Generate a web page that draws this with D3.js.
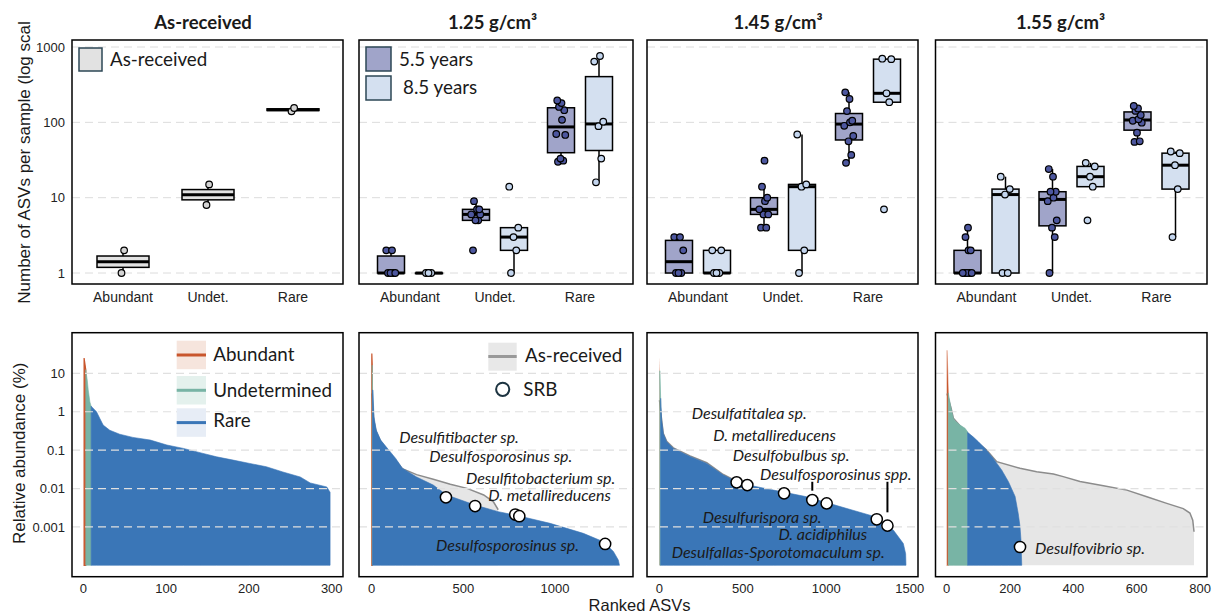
<!DOCTYPE html>
<html>
<head>
<meta charset="utf-8">
<script src="https://cdn.jsdelivr.net/npm/d3@7"></script>
<style>
  body { margin: 0; background: #fff; }
  svg { display: block; }
</style>
</head>
<body>
<svg id="chart" width="1213" height="615"></svg>
<script>
// ---------------- data ----------------
const panelTitles = ["As-received", "1.25 g/cm³", "1.45 g/cm³", "1.55 g/cm³"];
const categories = ["Abundant", "Undet.", "Rare"];
const ageLabels = ["5.5 years", "8.5 years"];

// Number of ASVs per sample, by abundance class (Abundant, Undet., Rare)
const countsAsReceived = [[1, 2], [8, 15], [140, 155]];
const counts125y55 = [[1, 1, 1, 1, 2, 2], [2, 5, 5, 6, 6, 7, 7, 9], [30, 31, 33, 68, 70, 108, 145, 160, 180, 195]];
const counts125y85 = [[1, 1, 1], [1, 2, 3, 4, 14], [16, 33, 89, 102, 640, 760]];
const counts145y55 = [[1, 1, 1, 2, 3, 3], [4, 4, 6, 6, 7, 9, 10, 14, 31], [29, 37, 56, 66, 90, 100, 105, 141, 204, 250]];
const counts145y85 = [[1, 1, 1, 2, 2], [1, 2, 14, 15, 69], [7, 185, 243, 690, 700]];
const counts155y55 = [[1, 1, 1, 1, 1, 2, 2, 3, 4], [1, 3, 4, 5, 9, 10, 12, 12, 19, 24], [55, 56, 73, 99, 105, 110, 125, 142, 153, 165]];
const counts155y85 = [[1, 1, 11, 13, 19], [5, 14, 19, 26, 29], [3, 13, 27, 39, 41]];

// Rank-abundance curves: [rank, relative abundance %]
const arAbundant = [[1, 25], [3, 12.5]];
const arUndet = [[3, 12.5], [4.8, 6.7], [6, 3.7], [8, 1.8], [9.5, 1.4]];
const arRare = [[9.5, 1.4], [16, 1.0], [20, 0.67], [24, 0.45], [32, 0.33], [44, 0.26], [60, 0.215], [81, 0.183],
  [101, 0.136], [121, 0.111], [141, 0.086], [161, 0.067], [181, 0.055], [201, 0.045], [221, 0.037], [241, 0.027],
  [262, 0.020], [274, 0.014], [294, 0.011], [298, 0.008]];

const d125Abundant = [[1, 33], [3, 16.4]];
const d125Undet = [[3, 16.4], [5, 3.7]];
const d125Rare = [[5, 3.7], [7, 3.67], [12.5, 0.74], [25, 0.333], [49, 0.183], [94, 0.10], [131, 0.061], [167, 0.034],
  [245, 0.020], [336, 0.0123], [409, 0.0068], [564, 0.0037], [690, 0.0025], [809, 0.0019], [973, 0.00124],
  [1154, 0.00068], [1264, 0.00041], [1318, 0.00023], [1345, 0.000137], [1351, 0.0001]];
const d125AsReceived = [[1, 3], [12, 0.6], [25, 0.3], [49, 0.17], [94, 0.09], [131, 0.055], [167, 0.033], [245, 0.023],
  [336, 0.0174], [429, 0.013], [520, 0.0101], [611, 0.0068], [664, 0.0045], [690, 0.0028]];
const d125SRB = [[405, 0.0059], [564, 0.0035], [783, 0.0021], [805, 0.0019], [1273, 0.00036]];
const d125Labels = [["Desulfitibacter sp.", 150, 0.215], ["Desulfosporosinus sp.", 314, 0.067],
  ["Desulfitobacterium sp.", 514, 0.0181], ["D. metallireducens", 636, 0.0066], ["Desulfosporosinus sp.", 351, 0.00034]];

const d145Abundant = [[1, 28], [3, 11.7]];
const d145Undet = [[3, 11.7], [8, 2.24]];
const d145Rare = [[8, 2.24], [14, 0.61], [24, 0.27], [44, 0.166], [84, 0.111], [184, 0.068], [284, 0.045],
  [383, 0.0224], [483, 0.0137], [683, 0.0091], [883, 0.0061], [1082, 0.0034], [1282, 0.0019], [1401, 0.00083],
  [1461, 0.00037], [1475, 0.0002], [1477, 0.0001]];
const d145AsReceived = [[1, 2], [14, 0.6], [24, 0.27], [44, 0.17], [84, 0.115], [184, 0.071], [284, 0.047],
  [383, 0.0232], [450, 0.0165], [520, 0.011], [640, 0.007], [700, 0.0045]];
const d145SRB = [[463, 0.0145], [527, 0.0123], [747, 0.0075], [916, 0.005], [1002, 0.0041], [1302, 0.00158], [1366, 0.00108]];
const d145Labels = [["Desulfatitalea sp.", 194, 0.91], ["D. metallireducens", 323, 0.247], ["Desulfobulbus sp.", 440, 0.0745],
  ["Desulfosporosinus spp.", 603, 0.0239], ["Desulfurispora sp.", 260, 0.00182], ["D. acidiphilus", 713, 0.00062],
  ["Desulfallas-Sporotomaculum sp.", 74, 0.000222]];
const d145Leaders = [[916, 0.015, 0.0088], [1366, 0.015, 0.0024]];

const d155Abundant = [[1, 40], [5, 3.1]];
const d155Undet = [[5, 3.1], [13.6, 1.23], [21, 0.67], [26, 0.58], [42, 0.45], [58, 0.37], [66, 0.30]];
const d155Rare = [[66, 0.29], [84, 0.22], [100, 0.166], [121, 0.111], [147, 0.061], [174, 0.030], [195, 0.015],
  [216, 0.0062], [226, 0.0022], [231.5, 0.00102], [234.6, 0.00045], [237, 0.0001]];
const d155AsReceived = [[1, 3], [13.6, 1.25], [21, 0.68], [42, 0.43], [66, 0.28], [100, 0.15], [126, 0.1], [158, 0.05],
  [231.5, 0.0336], [284, 0.0275], [337, 0.024], [368, 0.0204], [421, 0.0152], [495, 0.0118], [569, 0.0091],
  [632, 0.0061], [695, 0.0041], [747, 0.003], [768, 0.0023], [777, 0.0015], [781, 0.00075]];
const d155SRB = [[231.5, 0.0003]];
const d155Labels = [["Desulfovibrio sp.", 279, 0.000277]];

const topTicks = [1, 10, 100, 1000];
const bottomTicks = [10, 1, 0.1, 0.01, 0.001];
const rankTicks = [[0, 100, 200, 300], [0, 500, 1000], [0, 500, 1000, 1500], [0, 200, 400, 600, 800]];
const rankDomains = [[-13.6, 313.6], [-69, 1425], [-73.7, 1549], [-35.4, 822]];

// ---------------- layout & style ----------------
const svg = d3.select("#chart");
const fSans = "'Liberation Sans', Arial, sans-serif";
const fCal = "Lato, 'Open Sans', sans-serif";
const ink = "#1a1a1a";

const panelX = [[72, 343], [359, 633], [647, 918], [935.5, 1207]];
const topY = [40, 284];
const botY = [332.7, 576.7];

const colAR = "#e2e2e2", colARpt = "#d4d4d4";
const col55 = "#a0a4c9", col55pt = "#4d579f";
const col85 = "#d4e0f0", col85pt = "#c3d5ee";
const colAbund = "#c9562d", colUndet = "#78b4a5", colRare = "#3a76b7";
const colGreyFill = "#e6e6e6", colGreyLine = "#8c8c8c";
const legendEdge = "#2d4755";
const legendSize = 18.8;

const yTop = d3.scaleLog().domain([0.715, 1239]).range([topY[1], topY[0]]);
const yBot = d3.scaleLog().domain([Math.pow(10, -4.297), Math.pow(10, 2.06)]).range([botY[1], botY[0]]);
const baseline = 1e-4;

const jitterPattern = [-0.6, 0.45, -0.1, 0.85, -0.95, 0.2, 0.65, -0.4, 0.1, -0.75, 0.95];

function boxStats(vals) {
  const l = vals.map(Math.log10).sort(d3.ascending);
  const q1 = d3.quantile(l, 0.25), med = d3.quantile(l, 0.5), q3 = d3.quantile(l, 0.75);
  const iqr = q3 - q1;
  const lo = d3.min(l.filter(v => v >= q1 - 1.5 * iqr));
  const hi = d3.max(l.filter(v => v <= q3 + 1.5 * iqr));
  const p = v => Math.pow(10, v);
  return { q1: p(q1), med: p(med), q3: p(q3), lo: p(lo), hi: p(hi) };
}

// ---------------- titles ----------------
const titleX = [203, 492.5, 778, 1060.5];
panelTitles.forEach((t, i) => {
  svg.append("text").attr("x", titleX[i]).attr("y", 28.5).attr("text-anchor", "middle")
    .attr("font-family", fCal).attr("font-weight", 700).attr("font-size", 18.5).attr("fill", ink).text(t);
});

// ---------------- top row: box plots ----------------
const topSeries = [
  [{ vals: countsAsReceived, fill: colAR, pt: colARpt, off: 0, w: 52, jit: 2.5 }],
  [{ vals: counts125y55, fill: col55, pt: col55pt, off: -19, w: 27, jit: 5 },
   { vals: counts125y85, fill: col85, pt: col85pt, off: 19, w: 27, jit: 5 }],
  [{ vals: counts145y55, fill: col55, pt: col55pt, off: -19, w: 27, jit: 5 },
   { vals: counts145y85, fill: col85, pt: col85pt, off: 19, w: 27, jit: 5 }],
  [{ vals: counts155y55, fill: col55, pt: col55pt, off: -19, w: 27, jit: 5 },
   { vals: counts155y85, fill: col85, pt: col85pt, off: 19, w: 27, jit: 5 }]
];

panelX.forEach(([x0, x1], p) => {
  const g = svg.append("g");
  const xc = d3.scalePoint().domain(categories).range([x0 + 51, x0 + 221]);

  // grid
  g.selectAll("line.grid").data(topTicks).join("line")
    .attr("x1", x0).attr("x2", x1).attr("y1", d => yTop(d)).attr("y2", d => yTop(d))
    .attr("stroke", "#dcdcdc").attr("stroke-width", 1).attr("stroke-dasharray", "8,5");

  topSeries[p].forEach(s => {
    categories.forEach((c, ci) => {
      const vals = s.vals[ci];
      const st = boxStats(vals);
      const cx = xc(c) + s.off;
      const bg = g.append("g");
      bg.append("line").attr("x1", cx).attr("x2", cx).attr("y1", yTop(st.hi)).attr("y2", yTop(st.q3))
        .attr("stroke", "#000").attr("stroke-width", 1.5);
      bg.append("line").attr("x1", cx).attr("x2", cx).attr("y1", yTop(st.q1)).attr("y2", yTop(st.lo))
        .attr("stroke", "#000").attr("stroke-width", 1.5);
      bg.append("rect").attr("x", cx - s.w / 2).attr("width", s.w)
        .attr("y", yTop(st.q3)).attr("height", Math.max(0.5, yTop(st.q1) - yTop(st.q3)))
        .attr("fill", s.fill).attr("stroke", "#000").attr("stroke-width", 1.5);
      bg.append("line").attr("x1", cx - s.w / 2).attr("x2", cx + s.w / 2)
        .attr("y1", yTop(st.med)).attr("y2", yTop(st.med)).attr("stroke", "#000").attr("stroke-width", 3);
      bg.selectAll("circle").data(vals).join("circle")
        .attr("cx", (d, i) => cx + jitterPattern[i % jitterPattern.length] * s.jit)
        .attr("cy", d => yTop(d)).attr("r", 3.3)
        .attr("fill", s.pt).attr("stroke", "#000").attr("stroke-width", 1.2);
    });
  });

  // category labels
  g.selectAll("text.cat").data(categories).join("text")
    .attr("x", d => xc(d)).attr("y", 301.5).attr("text-anchor", "middle")
    .attr("font-family", fSans).attr("font-size", 14).attr("fill", "#222").text(d => d);

  // frame
  g.append("rect").attr("x", x0).attr("y", topY[0]).attr("width", x1 - x0).attr("height", topY[1] - topY[0])
    .attr("fill", "none").attr("stroke", "#000").attr("stroke-width", 1.5);
});

// top y axis labels
svg.selectAll("text.ytop").data(topTicks).join("text")
  .attr("x", 65).attr("y", d => yTop(d) + 4.6).attr("text-anchor", "end")
  .attr("font-family", fSans).attr("font-size", 13).attr("fill", "#222").text(d => d);
svg.append("text").attr("transform", "translate(30,162.5) rotate(-90)").attr("text-anchor", "middle")
  .attr("font-family", fSans).attr("font-size", 17).attr("fill", ink).text("Number of ASVs per sample (log scal");

// top legends
svg.append("rect").attr("x", 79).attr("y", 48).attr("width", 23).attr("height", 23)
  .attr("fill", colAR).attr("stroke", legendEdge).attr("stroke-width", 1.5);
svg.append("text").attr("x", 110).attr("y", 66).attr("font-family", fCal).attr("font-size", legendSize)
  .attr("fill", ink).text("As-received");
[[col55, 47, 399, 65.7], [col85, 76, 403, 94]].forEach(([c, y, tx, ty], i) => {
  svg.append("rect").attr("x", 366).attr("y", y).attr("width", 25).attr("height", 24)
    .attr("fill", c).attr("stroke", legendEdge).attr("stroke-width", 1.5);
  svg.append("text").attr("x", tx).attr("y", ty).attr("font-family", fCal).attr("font-size", legendSize)
    .attr("fill", ink).text(ageLabels[i]);
});

// ---------------- bottom row: rank-abundance curves ----------------
const bottomSets = [
  { abund: arAbundant, undet: arUndet, rare: arRare, ref: null, srb: [], labels: [], leaders: [], edge: true },
  { abund: d125Abundant, undet: d125Undet, rare: d125Rare, ref: d125AsReceived, srb: d125SRB, labels: d125Labels, leaders: [], edge: true },
  { abund: d145Abundant, undet: d145Undet, rare: d145Rare, ref: d145AsReceived, srb: d145SRB, labels: d145Labels, leaders: d145Leaders, edge: false },
  { abund: d155Abundant, undet: d155Undet, rare: d155Rare, ref: d155AsReceived, srb: d155SRB, labels: d155Labels, leaders: [], edge: true }
];

panelX.forEach(([x0, x1], p) => {
  const set = bottomSets[p];
  const g = svg.append("g");
  const xs = d3.scaleLinear().domain(rankDomains[p]).range([x0, x1]);
  const area = d3.area().x(d => xs(d[0])).y0(yBot(baseline)).y1(d => yBot(d[1]));
  const line = d3.line().x(d => xs(d[0])).y(d => yBot(d[1]));

  if (set.ref) {
    g.append("path").attr("d", area(set.ref)).attr("fill", colGreyFill);
    g.append("path").attr("d", line(set.ref)).attr("fill", "none").attr("stroke", colGreyLine).attr("stroke-width", 1.5);
  }
  g.append("path").attr("d", area(set.abund)).attr("fill", colAbund)
    .attr("stroke", set.edge ? colAbund : "none").attr("stroke-width", 1.2)
    .attr("stroke-opacity", p === 3 ? 0.45 : 1);
  g.append("path").attr("d", area(set.undet)).attr("fill", colUndet).attr("stroke", colUndet).attr("stroke-width", 0.6);
  g.append("path").attr("d", area(set.rare)).attr("fill", colRare).attr("stroke", colRare).attr("stroke-width", 0.6);

  // grid over the areas
  g.selectAll("line.grid").data(bottomTicks).join("line")
    .attr("x1", x0).attr("x2", x1).attr("y1", d => yBot(d)).attr("y2", d => yBot(d))
    .attr("stroke", "#e0e0e0").attr("stroke-width", 1.2).attr("stroke-dasharray", "8,5");

  // leaders, SRB markers, species labels
  g.selectAll("line.leader").data(set.leaders).join("line")
    .attr("x1", d => xs(d[0])).attr("x2", d => xs(d[0]))
    .attr("y1", d => yBot(d[1])).attr("y2", d => yBot(d[2]))
    .attr("stroke", "#000").attr("stroke-width", 2);
  g.selectAll("circle.srb").data(set.srb).join("circle")
    .attr("cx", d => xs(d[0])).attr("cy", d => yBot(d[1])).attr("r", 5.6)
    .attr("fill", "#fff").attr("stroke", "#000").attr("stroke-width", 1.5);
  g.selectAll("text.sp").data(set.labels).join("text")
    .attr("x", d => xs(d[1])).attr("y", d => yBot(d[2])).attr("dy", "0.35em")
    .attr("font-family", fCal).attr("font-style", "italic").attr("font-size", 16).attr("fill", ink)
    .text(d => d[0]);

  // rank ticks
  g.selectAll("text.xt").data(rankTicks[p]).join("text")
    .attr("x", d => xs(d)).attr("y", 592.7).attr("text-anchor", "middle")
    .attr("font-family", fSans).attr("font-size", 13).attr("fill", "#222").text(d => d);

  g.append("rect").attr("x", x0).attr("y", botY[0]).attr("width", x1 - x0).attr("height", botY[1] - botY[0])
    .attr("fill", "none").attr("stroke", "#000").attr("stroke-width", 1.5);
});

// bottom y axis
svg.selectAll("text.ybot").data(bottomTicks).join("text")
  .attr("x", 65).attr("y", d => yBot(d) + 4.6).attr("text-anchor", "end")
  .attr("font-family", fSans).attr("font-size", 13).attr("fill", "#222").text(d => d);
svg.append("text").attr("transform", "translate(25,453.3) rotate(-90)").attr("text-anchor", "middle")
  .attr("font-family", fSans).attr("font-size", 17).attr("fill", ink).text("Relative abundance (%)");
svg.append("text").attr("x", 639.5).attr("y", 611).attr("text-anchor", "middle")
  .attr("font-family", fSans).attr("font-size", 16.5).attr("fill", ink).text("Ranked ASVs");

// class legend
[["Abundant", colAbund, "#f6e5dd", 340.7, 360.7],
 ["Undetermined", colUndet, "#e4f1ed", 376, 396.7],
 ["Rare", colRare, "#e7edf6", 408.3, 427.3]].forEach(([t, c, bg, y, ty]) => {
  svg.append("rect").attr("x", 176.7).attr("y", y).attr("width", 29.3).attr("height", 28.5).attr("fill", bg);
  svg.append("line").attr("x1", 176.7).attr("x2", 206).attr("y1", y + 14.3).attr("y2", y + 14.3)
    .attr("stroke", c).attr("stroke-width", 3);
  svg.append("text").attr("x", 213.3).attr("y", ty).attr("font-family", fCal).attr("font-size", legendSize)
    .attr("fill", ink).text(t);
});

// reference / SRB legend
svg.append("rect").attr("x", 488.3).attr("y", 342.7).attr("width", 28.4).attr("height", 28).attr("fill", "#e8e8e8");
svg.append("line").attr("x1", 488.3).attr("x2", 516.7).attr("y1", 356.5).attr("y2", 356.5)
  .attr("stroke", "#999").attr("stroke-width", 3);
svg.append("text").attr("x", 525).attr("y", 361.7).attr("font-family", fCal).attr("font-size", legendSize)
  .attr("fill", ink).text("As-received");
svg.append("circle").attr("cx", 502.7).attr("cy", 389.3).attr("r", 6.6)
  .attr("fill", "#fff").attr("stroke", "#1d3441").attr("stroke-width", 2);
svg.append("text").attr("x", 523.3).attr("y", 395.7).attr("font-family", fCal).attr("font-size", legendSize)
  .attr("fill", ink).text("SRB");
</script>
</body>
</html>
